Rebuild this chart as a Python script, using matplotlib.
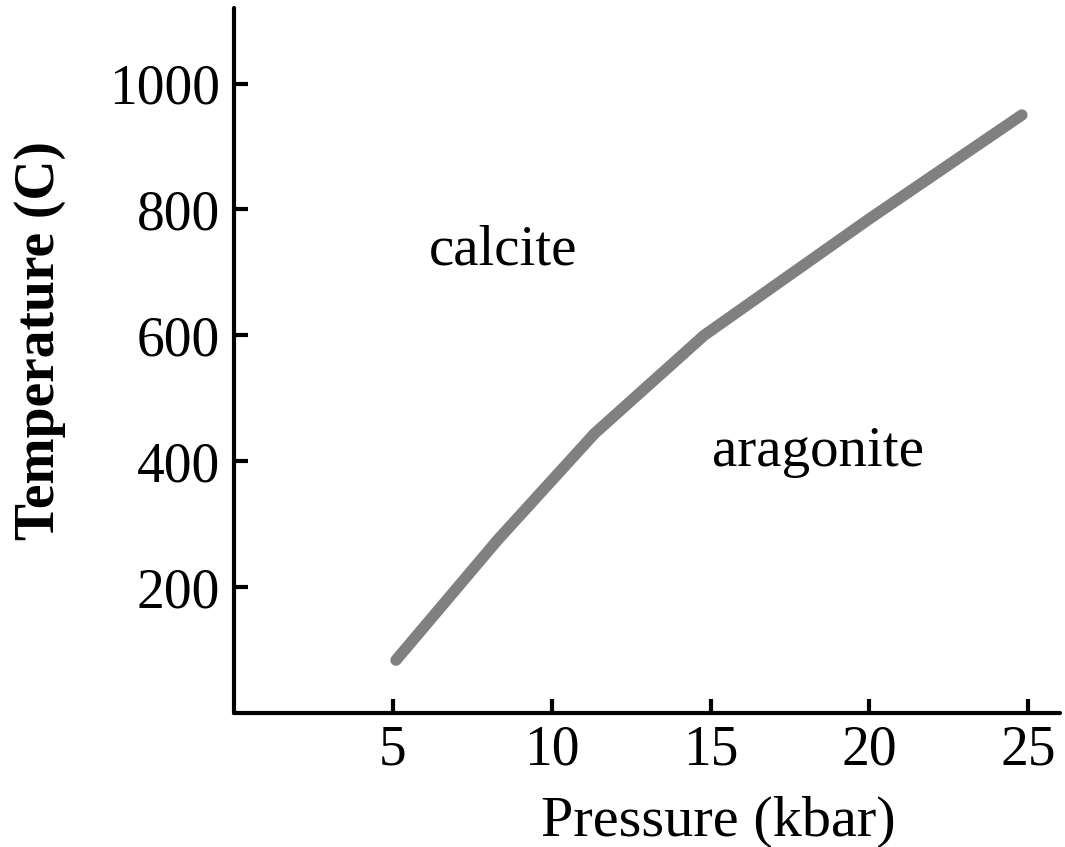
import matplotlib
matplotlib.use("Agg")
import matplotlib.pyplot as plt

# calcite-aragonite phase boundary
pressure = [5.1, 8.3, 11.35, 14.8, 20.0, 24.8]
temperature = [84, 275, 444, 600, 785, 950]

x_ticks = [5, 10, 15, 20, 25]
y_ticks = [200, 400, 600, 800, 1000]

plt.rcParams["font.family"] = ["Liberation Serif", "DejaVu Serif"]

fig = plt.figure(figsize=(10.65, 8.47), dpi=100)
ax = fig.add_axes([0.2197, 0.1582, 0.7756, 0.8324])

ax.plot(pressure, temperature, color="#808080", linewidth=8.2, solid_capstyle="round", solid_joinstyle="round")

ax.text(6.15, 735, "calcite", fontsize=41, va="center", ha="left")
ax.text(15.05, 414, "aragonite", fontsize=41, va="center", ha="left")

ax.set_xlim(0, 26)
ax.set_ylim(0, 1120)
ax.set_xticks(x_ticks)
ax.set_yticks(y_ticks)

for side in ["top", "right"]:
    ax.spines[side].set_visible(False)
for side in ["left", "bottom"]:
    ax.spines[side].set_linewidth(3)
    ax.spines[side].set_capstyle("round")

ax.tick_params(direction="in", length=10, width=3, labelsize=40)
ax.tick_params(axis="x", pad=8)
ax.tick_params(axis="y", pad=10)

ax.set_xlabel("Pressure (kbar)", fontsize=42)
ax.xaxis.set_label_coords(0.586, -0.118)
ax.set_ylabel("Temperature (C)", fontsize=40, fontweight="bold")
ax.yaxis.set_label_coords(-0.203, 0.528)

fig.savefig("out.png", dpi=100)
